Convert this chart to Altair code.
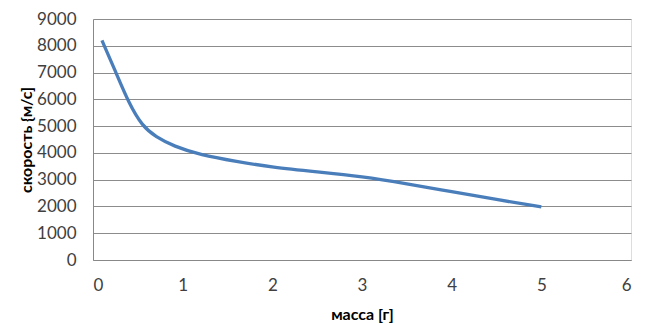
import altair as alt
import pandas as pd

mass = [0.1, 0.25, 0.4, 0.55, 0.7, 0.9, 1.2, 1.6, 2.0, 2.5, 3.0, 3.5, 4.0, 4.5, 5.0]
speed = [8200, 7050, 5850, 5000, 4600, 4250, 3920, 3680, 3460, 3290, 3120, 2850, 2550, 2260, 1980]

df = pd.DataFrame({"mass": mass, "speed": speed})

FONT = "Lato"

chart = alt.Chart(df).mark_line(
    color="#4A7EBB", strokeWidth=3.3, interpolate="basis"
).encode(
    x=alt.X("mass:Q", title="масса [г]",
            scale=alt.Scale(domain=[0, 6], nice=False),
            axis=alt.Axis(values=[0, 1, 2, 3, 4, 5, 6], grid=False, ticks=False,
                          domainColor="#888888", labelFontSize=17, labelPadding=17,
                          labelColor="#404040", titleFontSize=16, titleFontWeight="bold",
                          titleColor="#000000", titlePadding=13, labelFont=FONT, titleFont=FONT)),
    y=alt.Y("speed:Q", title="скорость {м/с]",
            scale=alt.Scale(domain=[0, 9000], nice=False),
            axis=alt.Axis(values=list(range(0, 9001, 1000)), format="d", grid=True,
                          gridColor="#8c8c8c", gridWidth=1, ticks=False, domainColor="#888888",
                          labelFontSize=17, labelPadding=17, labelColor="#404040",
                          titleFontSize=16, titleFontWeight="bold", titleColor="#000000",
                          titlePadding=2, labelFont=FONT, titleFont=FONT)),
).properties(
    width=538, height=241,
    autosize=alt.AutoSizeParams(type="none"),
    padding={"left": 93, "top": 19, "right": 15, "bottom": 63},
).configure_view(stroke=None).configure(background="white")

chart.save("out.html", embed_options={"renderer": "svg", "actions": False})
